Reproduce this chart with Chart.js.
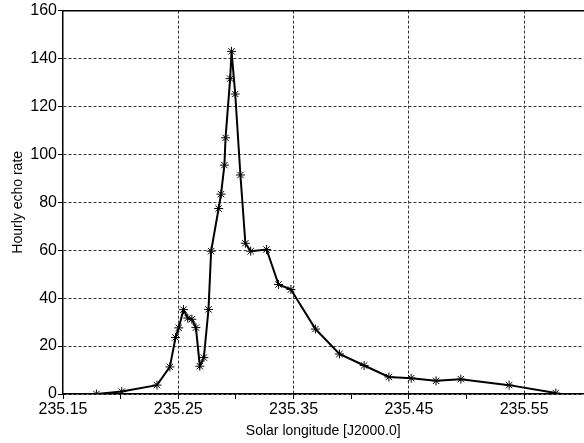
<!DOCTYPE html>
<html>
<head>
<meta charset="utf-8">
<script src="https://cdn.jsdelivr.net/npm/chart.js@4/dist/chart.umd.min.js"></script>
<style>
  body { margin: 0; background: #fff; }
  #wrap { width: 584px; height: 443px; overflow: hidden; }
</style>
</head>
<body>
<div id="wrap"><canvas id="echoChart" width="589" height="443"></canvas></div>
<script>
// Solar longitude (J2000.0) of each point
const solarLon = [235.179, 235.201, 235.2315, 235.2427, 235.2476, 235.2504, 235.2545, 235.2582,
  235.2618, 235.2653, 235.2687, 235.2722, 235.2762, 235.2785, 235.285, 235.2871, 235.290,
  235.291, 235.295, 235.2962, 235.2994, 235.3039, 235.3082, 235.3128, 235.3266, 235.337,
  235.3477, 235.369, 235.3898, 235.4112, 235.4327, 235.452, 235.4736, 235.4951, 235.537, 235.5775];
// Hourly echo rate
const echoRate = [0, 1, 3.7, 11.3, 23.6, 27.6, 35.2, 31.7, 31.2, 27.7, 11.6, 15.2, 35.3,
  59.6, 77.4, 83.4, 95.5, 106.9, 131.6, 143.0, 125.2, 91.4, 62.9, 59.6, 60.3, 45.7,
  43.6, 27.1, 16.7, 11.9, 7.1, 6.6, 5.5, 6.2, 3.7, 0.4];

const xTicks = [235.15, 235.20, 235.25, 235.30, 235.35, 235.40, 235.45, 235.50, 235.55];
const xGridAt = [235.25, 235.35, 235.45, 235.55];
const yTicks = [0, 20, 40, 60, 80, 100, 120, 140, 160];

const X_MIN = 235.15, X_MAX = 235.6015;

const near = (v, list) => list.some(l => Math.abs(l - v) < 1e-6);
const isLabelled = v => Math.abs(v - 235.15) < 1e-6 || near(v, xGridAt);
const font = { family: "'Liberation Sans', Arial, sans-serif", size: 16 };

const ctx = document.getElementById('echoChart').getContext('2d');

new Chart(ctx, {
  type: 'scatter',
  data: {
    datasets: [{
      data: solarLon.map((x, i) => ({ x: x, y: echoRate[i] })),
      showLine: true,
      borderColor: '#000',
      borderWidth: 2,
      pointStyle: 'star',
      pointRadius: 4.5,
      pointBorderColor: '#000',
      pointBorderWidth: 1
    }]
  },
  options: {
    responsive: false,
    animation: false,
    layout: { padding: { top: 9, right: 0, bottom: 0, left: 0 } },
    plugins: { legend: { display: false }, tooltip: { enabled: false } },
    scales: {
      x: {
        type: 'linear',
        min: X_MIN,
        max: X_MAX,
        afterBuildTicks: s => { s.ticks = xTicks.map(v => ({ value: v })); },
        afterFit: s => { s.height = 49; },
        ticks: {
          color: '#000',
          font: font,
          padding: 1,
          maxRotation: 0,
          autoSkip: false,
          callback: v => isLabelled(v) ? v.toFixed(2) : ''
        },
        grid: {
          drawOnChartArea: false,
          color: '#000',
          tickLength: 5,
          lineWidth: 1
        },
        border: { color: '#000', width: 1.5 },
        title: {
          display: true,
          text: 'Solar longitude [J2000.0]',
          color: '#000',
          font: { family: font.family, size: 14 },
          padding: { top: 0, bottom: 3 }
        }
      },
      // dotted vertical grid lines at the labelled ticks only
      xGrid: {
        type: 'linear',
        position: 'bottom',
        min: X_MIN,
        max: X_MAX,
        afterBuildTicks: s => { s.ticks = xGridAt.map(v => ({ value: v })); },
        afterFit: s => { s.height = 0; },
        ticks: { display: false },
        grid: { color: '#333', lineWidth: 1, drawTicks: false },
        border: { display: false, dash: [3, 2] }
      },
      xTop: {
        type: 'linear',
        position: 'top',
        min: X_MIN,
        max: X_MAX,
        afterFit: s => { s.height = 0; },
        ticks: { display: false },
        grid: { display: false },
        border: { display: true, color: '#000', width: 1.5 }
      },
      y: {
        min: 0,
        max: 160,
        afterBuildTicks: s => { s.ticks = yTicks.map(v => ({ value: v })); },
        afterFit: s => { s.width = 63; },
        ticks: { color: '#000', font: font, padding: 1 },
        grid: { color: '#333', tickColor: '#000', tickLength: 5, lineWidth: 1 },
        border: { color: '#000', width: 1.5, dash: [3, 2] },
        title: {
          display: true,
          text: 'Hourly echo rate',
          color: '#000',
          font: { family: font.family, size: 14 },
          padding: { top: 10, bottom: 0 }
        }
      }
    }
  }
});
</script>
</body>
</html>
